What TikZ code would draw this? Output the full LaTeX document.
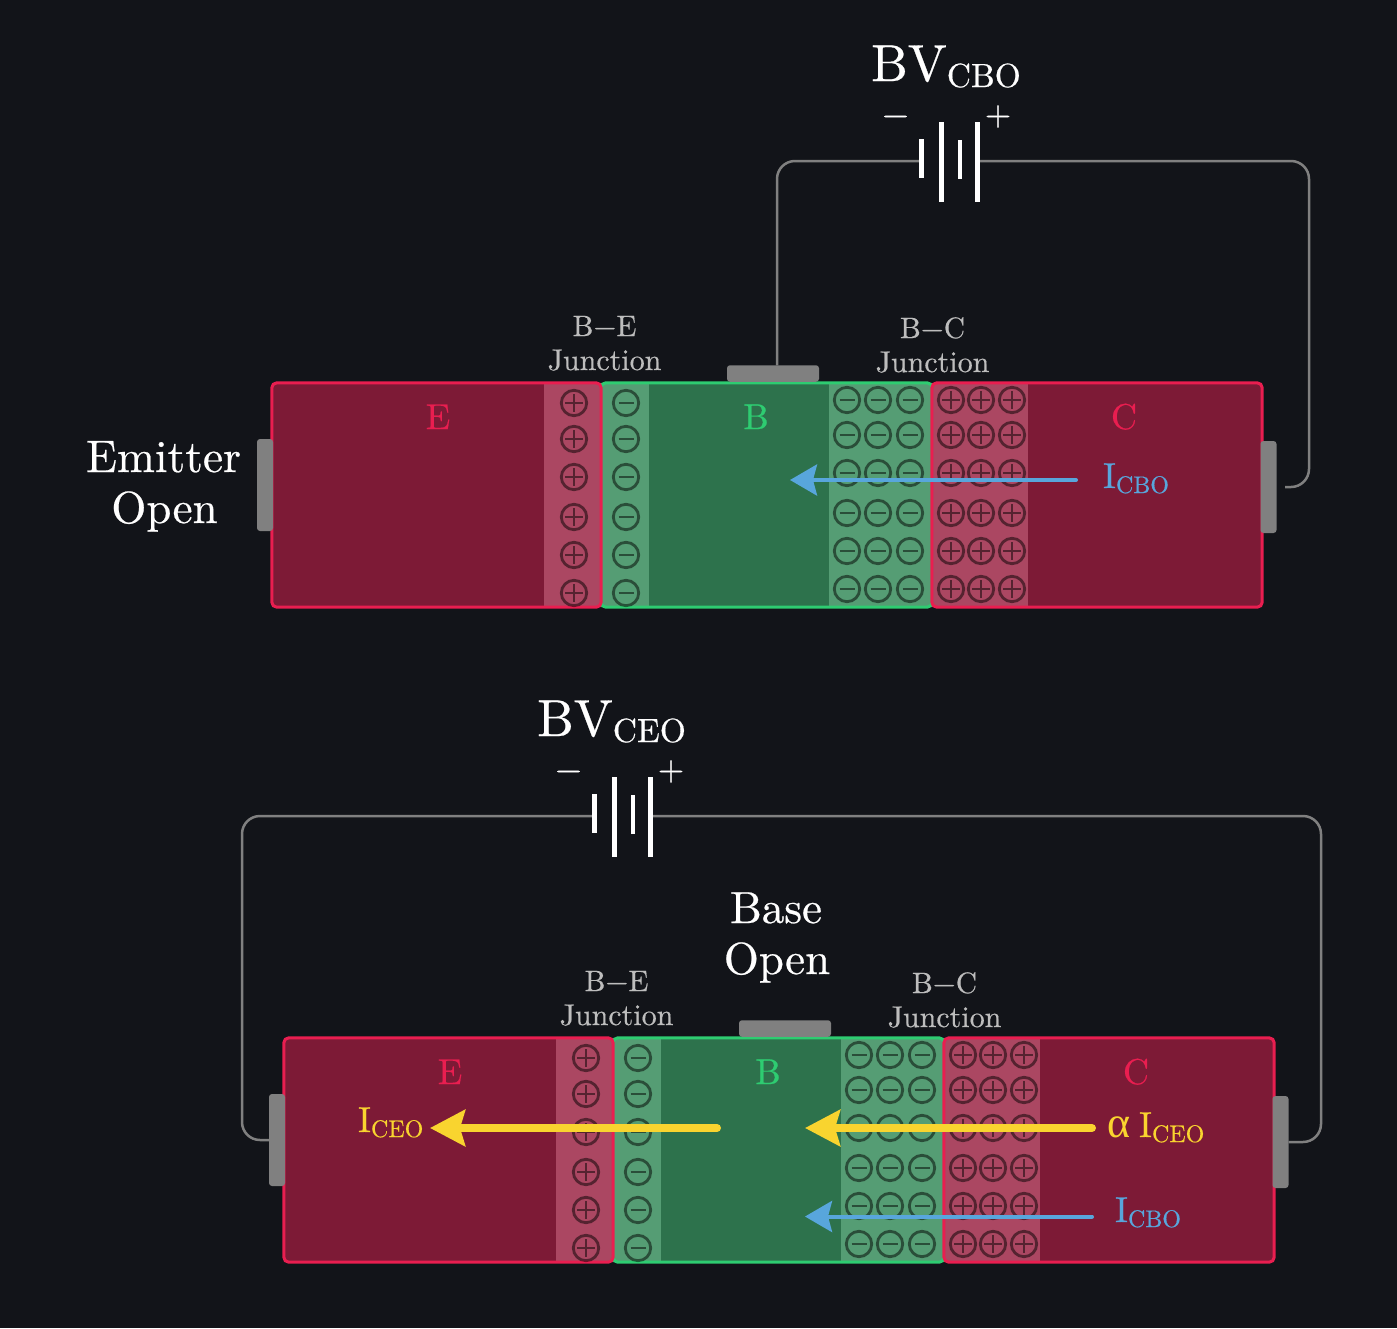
\documentclass[tikz,border=0pt]{standalone}
\usepackage{fontspec}
\setmainfont{lmroman10-regular}[Extension=.otf,FakeBold=0.5]
\newfontfamily\grkf{Liberation Serif}
\usetikzlibrary{arrows.meta}
\definecolor{bgc}{HTML}{121419}
\definecolor{redS}{HTML}{E91E50}
\definecolor{redF}{HTML}{7D1A36}
\definecolor{redD}{HTML}{AB4762}
\definecolor{grnS}{HTML}{2ECC71}
\definecolor{grnF}{HTML}{2D724C}
\definecolor{grnD}{HTML}{559D74}
\definecolor{gryC}{HTML}{808080}
\definecolor{lblC}{HTML}{BDBDBD}
\definecolor{bluC}{HTML}{58A6DC}
\definecolor{ylwC}{HTML}{F9D42F}
\newcommand{\fsz}[1]{\fontsize{#1}{#1}\selectfont}
\newcommand{\cur}[2]{{\fsz{36}#1}\raisebox{-5pt}{\fsz{24}#2}}
\newcommand{\bvl}[1]{{\fsz{52}BV}\raisebox{-6pt}{\fsz{33.5}#1}}
\tikzset{
  x=1pt,y=-1pt,
  txt/.style={inner sep=0pt,outer sep=0pt,anchor=base},
  txtw/.style={inner sep=0pt,outer sep=0pt,anchor=base west},
  region/.style={rectangle,inner sep=0pt,minimum width=#1,minimum height=224pt,rounded corners=5pt},
  contact/.style={rectangle,inner sep=0pt,outer sep=0pt,fill=gryC,rounded corners=3pt},
  plate/.style={rectangle,inner sep=0pt,outer sep=0pt,fill=white,minimum width=4.5pt},
  wire/.style={draw=gryC,line width=2.5pt,rounded corners=18pt},
  bluearrow/.style={draw=bluC,line width=4pt,line cap=round,-{Stealth[length=27pt,width=31pt,inset=4pt]}},
  ylwarrow/.style={draw=ylwC,line width=8pt,line cap=round,-{Stealth[length=35pt,width=36pt,inset=5pt]}},
  chg/.style={draw=black,draw opacity=0.5,line width=2.8pt},
  chgbar/.style={draw=black,draw opacity=0.5,line width=2.6pt},
  plusc/.pic={\draw[chg] (0,0) circle[radius=12.7pt];\draw[chgbar] (-9,0)--(9,0) (0,-9)--(0,9);},
  minusc/.pic={\draw[chg] (0,0) circle[radius=12.7pt];\draw[chgbar] (-7.5,0)--(7.5,0);},
}
\newcommand{\bjt}[2]{%
\begin{scope}[shift={(#2)}]
  % base region
  \node[region=331pt,fill=grnF] (#1b) at (766.5,495) {};
  \begin{scope}
    \clip[rounded corners=5pt] (#1b.north west) rectangle (#1b.south east);
    \fill[grnD] (601,383) rectangle (649,607);
    \fill[grnD] (829,383) rectangle (932,607);
  \end{scope}
  \draw[grnS,line width=3pt,rounded corners=5pt] (#1b.north west) rectangle (#1b.south east);
  % emitter region
  \node[region=329pt,fill=redF] (#1e) at (436.5,495) {};
  \begin{scope}
    \clip[rounded corners=5pt] (#1e.north west) rectangle (#1e.south east);
    \fill[redD] (544,383) rectangle (601,607);
  \end{scope}
  \draw[redS,line width=3pt,rounded corners=5pt] (#1e.north west) rectangle (#1e.south east);
  % collector region
  \node[region=330pt,fill=redF] (#1c) at (1097,495) {};
  \begin{scope}
    \clip[rounded corners=5pt] (#1c.north west) rectangle (#1c.south east);
    \fill[redD] (932,383) rectangle (1028,607);
  \end{scope}
  \draw[redS,line width=3pt,rounded corners=5pt] (#1c.north west) rectangle (#1c.south east);
  % contacts
  \node[contact,minimum width=92pt,minimum height=16.5pt] (#1cb) at (773,373.5) {};
  \node[contact,minimum width=16pt,minimum height=92pt] (#1ce) at (265,485) {};
  \node[contact,minimum width=16pt,minimum height=92pt] (#1cc) at (1268.5,487) {};
  % charges
  \foreach \yy in {403,439,477,517,555,593}{
    \pic at (574,\yy) {plusc};
    \pic at (626,\yy) {minusc};
  }
  \foreach \yy in {400,435,473,513,551,589}{
    \foreach \xx in {847,878,910}{\pic at (\xx,\yy) {minusc};}
    \foreach \xx in {951,981,1012}{\pic at (\xx,\yy) {plusc};}
  }
  % labels
  \node[txt,text=redS] (#1le) at (438,429) {\fsz{36}E};
  \node[txt,text=grnS] (#1lb) at (756,429) {\fsz{36}B};
  \node[txt,text=redS] (#1lc) at (1124,429) {\fsz{36}C};
  \node[txt,text=lblC] (#1j1) at (604.5,336) {\fsz{29.5}B−E};
  \node[txt,text=lblC] (#1j2) at (604.5,370) {\fsz{30}Junction};
  \node[txt,text=lblC] (#1j3) at (932.5,338) {\fsz{29.5}B−C};
  \node[txt,text=lblC] (#1j4) at (932.5,372) {\fsz{30}Junction};
\end{scope}}
\newcommand{\batt}[2]{%
\begin{scope}[shift={(#2)}]
  \node[plate,minimum height=39pt] (#1p1) at (921.5,158.5) {};
  \node[plate,minimum height=80pt] (#1p2) at (941.5,162) {};
  \node[plate,minimum height=39pt] (#1p3) at (960,159.5) {};
  \node[plate,minimum height=80pt] (#1p4) at (977.5,162) {};
  \node[txt,text=white] (#1mi) at (895.5,125) {\fsz{34}−};
  \node[txt,text=white] (#1pl) at (998,125) {\fsz{34}+};
\end{scope}}
\begin{document}
\begin{tikzpicture}
  \useasboundingbox (0,0) rectangle (1397,1328);
  \fill[bgc] (0,0) rectangle (1397,1328);

  % ---------- upper circuit
  \coordinate (tcl) at (777,161);
  \coordinate (tcr) at (1309,161);
  \coordinate (tcr2) at (1309,487);
  \coordinate (tend) at (1285,487);
  \bjt{t}{0,0}
  \draw[wire] ([xshift=4pt]tcb.north) -- (tcl) -- (921,161);
  \draw[wire] (979,161) -- (tcr) -- (tcr2) -- (tend);
  \batt{t}{0,0}
  \node[txtw,text=white] (tbv) at (871,81) {\bvl{CBO}};
  \node[txt,text=white] (tem1) at (163.5,472) {\fsz{45.5}Emitter};
  \node[txt,text=white] (tem2) at (164.5,523) {\fsz{45}Open};
  \coordinate (ta1) at (1076,480);
  \coordinate (ta2) at (790,480);
  \draw[bluearrow] (ta1) -- (ta2);
  \node[txtw,text=bluC] (ticbo) at (1103,488) {\cur{I}{CBO}};

  % ---------- lower circuit
  \coordinate (bcl) at (242,816);
  \coordinate (bcr) at (1321,816);
  \bjt{b}{12,655}
  \draw[wire] (594,816) -- (bcl) |- (bce.west);
  \draw[wire] (652,816) -- (bcr) |- (bcc.east);
  \batt{b}{-327,655}
  \node[txtw,text=white] (bbv) at (537,736) {\bvl{CEO}};
  \node[txt,text=white] (bop1) at (776,923) {\fsz{45}Base};
  \node[txt,text=white] (bop2) at (777,974) {\fsz{45}Open};
  \coordinate (ya1) at (717,1128);
  \coordinate (ya2) at (430,1128);
  \coordinate (yb1) at (1092,1128);
  \coordinate (yb2) at (805,1128);
  \coordinate (ba1) at (1092,1216.5);
  \coordinate (ba2) at (805,1216.5);
  \draw[ylwarrow] (ya1) -- (ya2);
  \draw[ylwarrow] (yb1) -- (yb2);
  \draw[bluearrow] (ba1) -- (ba2);
  \node[txtw,text=ylwC] (biceo) at (358,1132) {\cur{I}{CEO}};
  \node[txtw,text=ylwC] (baic) at (1107,1137) {\grkf\fsz{44}α};
  \node[txtw,text=ylwC] (bai) at (1139,1137) {\cur{I}{CEO}};
  \node[txtw,text=bluC] (bicbo) at (1115,1222) {\cur{I}{CBO}};
\end{tikzpicture}
\end{document}
